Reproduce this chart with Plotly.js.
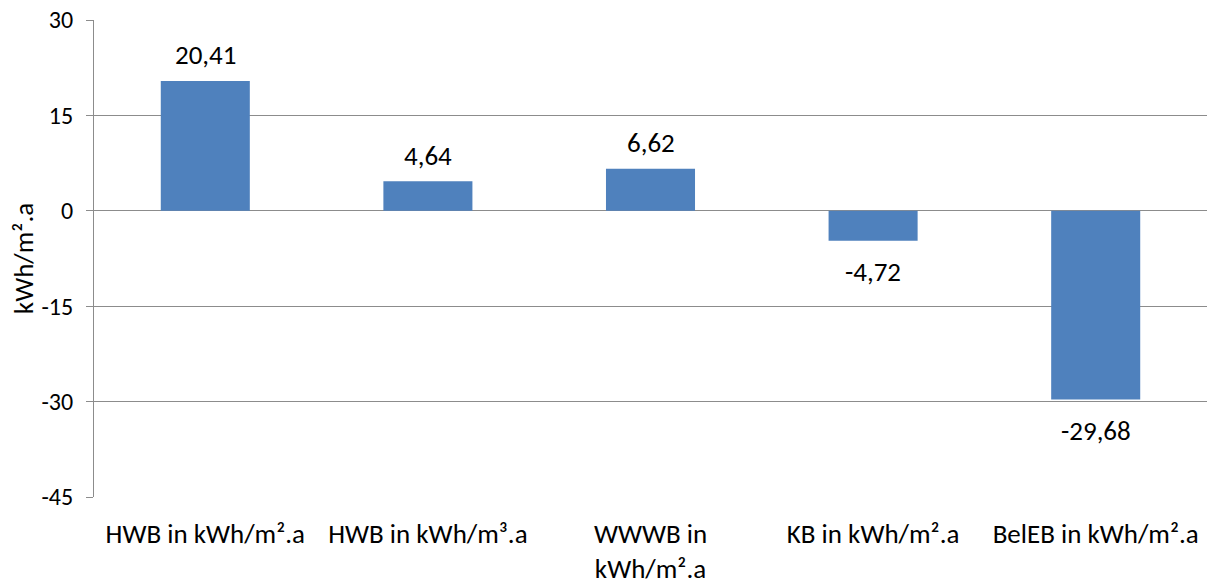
<!DOCTYPE html>
<html>
<head>
<meta charset="utf-8">
<script src="https://cdn.plot.ly/plotly-3.0.1.min.js"></script>
<style>
  html, body { margin: 0; padding: 0; background: #fff; }
  #chart { width: 1212px; height: 585px; }
</style>
</head>
<body>
<div id="chart"></div>
<script>
// Energy indicators (difference values)
const categories = [
  'HWB in kWh/m².a',
  'HWB in kWh/m³.a',
  'WWWB in<br>kWh/m².a',
  'KB in kWh/m².a',
  'BelEB in kWh/m².a'
];
const values = [20.41, 4.64, 6.62, -4.72, -29.68];
const tickValues = [-45, -30, -15, 0, 15, 30];

const fontFamily = 'Carlito, Calibri, "Open Sans", "Noto Sans", sans-serif';

const fmt = v => v.toFixed(2).replace('.', ',');

const labels = values.map((v, i) => ({
  x: categories[i],
  y: v,
  text: fmt(v),
  showarrow: false,
  yanchor: 'middle',
  yshift: v >= 0 ? 26 : -31,
  font: { family: fontFamily, size: 27, color: '#000' }
}));

const trace = {
  type: 'bar',
  x: categories,
  y: values,
  marker: { color: '#4F81BD' },
  hoverinfo: 'x+y'
};

const layout = {
  width: 1212,
  height: 585,
  margin: { l: 94, r: 5, t: 20, b: 88 },
  paper_bgcolor: '#fff',
  plot_bgcolor: '#fff',
  bargap: 0.6,
  showlegend: false,
  font: { family: fontFamily, size: 24, color: '#000' },
  xaxis: {
    type: 'category',
    showgrid: false,
    showline: false,
    ticks: '',
    zeroline: false,
    tickfont: { family: fontFamily, size: 27, color: '#000' },
    ticklabelstandoff: 18,
    automargin: false
  },
  yaxis: {
    range: [-45, 30],
    tickvals: tickValues,
    ticktext: tickValues.map(String),
    showgrid: true,
    gridcolor: '#8c8c8c',
    gridwidth: 1,
    zeroline: true,
    zerolinecolor: '#8c8c8c',
    zerolinewidth: 1,
    showline: true,
    linecolor: '#8c8c8c',
    linewidth: 1,
    ticks: 'outside',
    ticklen: 7,
    tickcolor: '#8c8c8c',
    tickfont: { family: fontFamily, size: 24, color: '#000' },
    ticklabelstandoff: 8,
    title: { text: 'kWh/m².a', font: { family: fontFamily, size: 27, color: '#000' }, standoff: 0 },
    automargin: false
  },
  annotations: labels
};

Plotly.newPlot('chart', [trace], layout, { displayModeBar: false, staticPlot: true });
</script>
</body>
</html>
